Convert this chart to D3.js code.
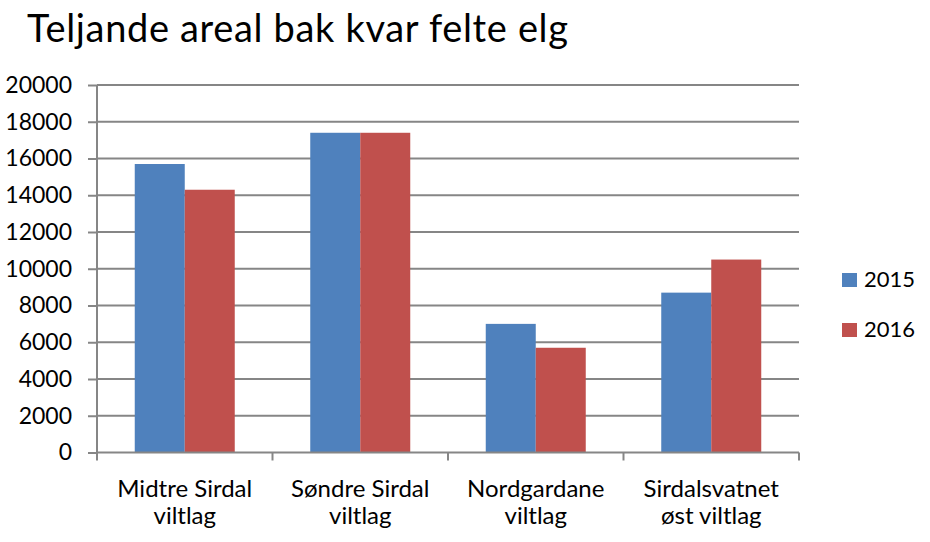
<!DOCTYPE html>
<html>
<head>
<meta charset="utf-8">
<script src="https://cdn.jsdelivr.net/npm/d3@7"></script>
<style>
  body { margin: 0; background: #fff; }
  text { font-family: Lato, "Open Sans", sans-serif; fill: #000; }
</style>
</head>
<body>
<div id="chart"></div>
<script>
const categories = [["Midtre Sirdal", "viltlag"], ["Søndre Sirdal", "viltlag"], ["Nordgardane", "viltlag"], ["Sirdalsvatnet", "øst viltlag"]];
const seriesNames = ["2015", "2016"];
const values2015 = [15700, 17400, 7000, 8700];
const values2016 = [14300, 17400, 5700, 10500];
const yTicks = [0, 2000, 4000, 6000, 8000, 10000, 12000, 14000, 16000, 18000, 20000];
const colors = ["#4f81bd", "#c0504d"];

const width = 930, height = 542;
const plotLeft = 97, plotRight = 799, plotTop = 85, plotBottom = 452.5;

const svg = d3.select("#chart").append("svg")
    .attr("width", width).attr("height", height);

// title
svg.append("text")
    .text("Teljande areal bak kvar felte elg")
    .attr("x", 27).attr("y", 42)
    .attr("font-size", 38)
    .attr("textLength", 541);

const x0 = d3.scaleBand().domain(d3.range(categories.length)).range([plotLeft, plotRight]);
const x1 = d3.scaleBand().domain(seriesNames).range([0, x0.bandwidth()]).paddingOuter(0.755);
const y = d3.scaleLinear().domain([0, 20000]).range([plotBottom, plotTop]);

// grid lines
svg.append("g").selectAll("line").data(yTicks.filter(d => d > 0)).join("line")
    .attr("x1", plotLeft).attr("x2", plotRight)
    .attr("y1", d => y(d)).attr("y2", d => y(d))
    .attr("stroke", "#868686").attr("stroke-width", 2);

// bars
const data = categories.map((c, i) => ({ i, vals: [values2015[i], values2016[i]] }));
const groups = svg.append("g").selectAll("g").data(data).join("g")
    .attr("transform", d => `translate(${x0(d.i)},0)`);
groups.selectAll("rect").data(d => d.vals.map((v, k) => ({ key: seriesNames[k], v, k }))).join("rect")
    .attr("x", d => x1(d.key))
    .attr("width", x1.bandwidth())
    .attr("y", d => y(d.v))
    .attr("height", d => y(0) - y(d.v))
    .attr("fill", d => colors[d.k]);

// y axis
const yAxis = svg.append("g")
    .attr("transform", `translate(${plotLeft},0)`)
    .call(d3.axisLeft(y).tickValues(yTicks).tickSize(9).tickPadding(16).tickFormat(d3.format("d")));
yAxis.select(".domain").attr("stroke", "#868686").attr("stroke-width", 2).attr("d", `M0,${plotTop}V${plotBottom}`);
yAxis.selectAll(".tick line").attr("stroke", "#868686").attr("stroke-width", 2);
yAxis.selectAll(".tick text").attr("font-size", 23).attr("font-family", "Lato, sans-serif").attr("fill", "#000");

// x axis
const xAxis = svg.append("g")
    .attr("transform", `translate(0,${plotBottom})`);
xAxis.append("line")
    .attr("x1", plotLeft).attr("x2", plotRight)
    .attr("stroke", "#868686").attr("stroke-width", 2);
const xTickPos = d3.range(categories.length).map(i => x0(i)).concat([plotRight]);
xAxis.selectAll(".xt").data(xTickPos).join("line")
    .attr("class", "xt")
    .attr("x1", d => d).attr("x2", d => d)
    .attr("y1", 0).attr("y2", 8)
    .attr("stroke", "#868686").attr("stroke-width", 2);
const labels = xAxis.selectAll(".xl").data(categories.map((c, i) => ({ c, i }))).join("text")
    .attr("class", "xl")
    .attr("text-anchor", "middle")
    .attr("font-size", 24)
    .attr("x", d => x0(d.i) + x0.bandwidth() / 2);
labels.selectAll("tspan").data(d => d.c.map(line => ({ line, x: x0(d.i) + x0.bandwidth() / 2 }))).join("tspan")
    .attr("x", d => d.x)
    .attr("y", (d, j) => 44 + j * 27)
    .text(d => d.line);

// legend
const legend = svg.append("g").selectAll("g").data(seriesNames).join("g")
    .attr("transform", (d, i) => `translate(842,${273 + i * 50})`);
legend.append("rect").attr("width", 15).attr("height", 14).attr("fill", (d, i) => colors[i]);
legend.append("text").text(d => d).attr("x", 22).attr("y", 14).attr("font-size", 22);
</script>
</body>
</html>
